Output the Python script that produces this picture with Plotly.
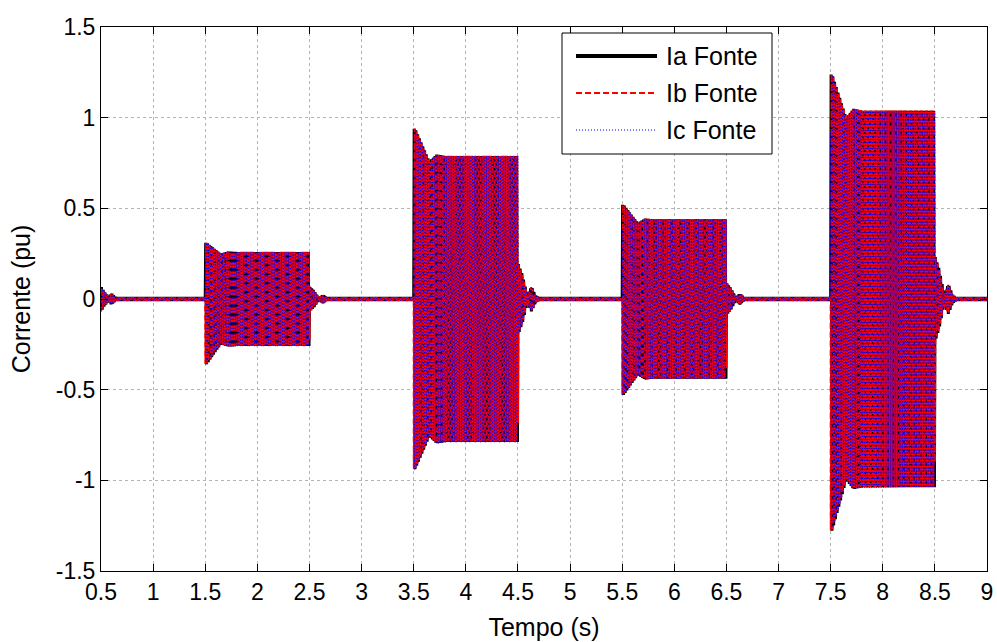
import numpy as np
import plotly.graph_objects as go

# ---- source currents: switching events (seconds, per-unit) ----
F_HZ = 60.0                       # grid frequency
t_start, t_end = 0.5, 9.0

t_on = [1.5, 3.5, 5.5, 7.5]       # load switched on
t_off = [2.5, 4.5, 6.5, 8.5]      # load switched off
steady = [0.26, 0.79, 0.44, 1.04]     # steady-state peak current
peak_top = [0.31, 0.94, 0.52, 1.24]   # positive inrush peak
peak_bot = [0.36, 0.94, 0.53, 1.28]   # negative inrush peak (magnitude)
dip = [0.25, 0.76, 0.42, 1.00]        # envelope dip after inrush
tail = [0.07, 0.2, 0.09, 0.24]        # ringing amplitude after switch-off

init_amp = 0.07                   # start-up transient at t = 0.5 s
residual = 0.01                   # idle ripple between events

# envelope breakpoints relative to each event (seconds)
inrush_dt = [0.0, 0.015, 0.15, 0.22, 0.3]
ring_dt = [0.0, 0.04, 0.09, 0.13, 0.17, 0.23]
ring_shape = [1.0, 0.7, 0.12, 0.35, 0.1, 0.0]
init_dt = [0.0, 0.03, 0.07, 0.1, 0.14, 0.2]
init_shape = [1.0, 0.6, 0.2, 0.45, 0.15, 0.0]

phase_names = ["Ia Fonte", "Ib Fonte", "Ic Fonte"]
phase_shift = [0.0, -2 * np.pi / 3, 2 * np.pi / 3]
colors = ["#000000", "#ff0000", "#0000ff"]
widths = [3, 2, 1]
dashes = ["solid", "6px,3px", "1px,2px"]

tick_x = [0.5, 1, 1.5, 2, 2.5, 3, 3.5, 4, 4.5, 5, 5.5, 6, 6.5, 7, 7.5, 8, 8.5, 9]
tick_x_text = ["0.5", "1", "1.5", "2", "2.5", "3", "3.5", "4", "4.5",
               "5", "5.5", "6", "6.5", "7", "7.5", "8", "8.5", "9"]
tick_y = [-1.5, -1, -0.5, 0, 0.5, 1, 1.5]
tick_y_text = ["-1.5", "-1", "-0.5", "0", "0.5", "1", "1.5"]

# ---- build upper / lower envelopes ----
t = np.arange(t_start, t_end, 1.0 / (F_HZ * 31))
upper = np.full_like(t, residual)
lower = np.full_like(t, residual)

m = (t >= t_start) & (t < t_start + init_dt[-1])
env0 = init_amp * np.interp(t[m] - t_start, init_dt, init_shape)
upper[m] = np.maximum(upper[m], env0)
lower[m] = np.maximum(lower[m], env0)

for k in range(len(t_on)):
    on = (t >= t_on[k]) & (t < t_off[k])
    rel = t[on] - t_on[k]
    up_pts = [peak_top[k], peak_top[k], dip[k], steady[k] * 1.01, steady[k]]
    lo_pts = [peak_bot[k], peak_bot[k], dip[k], steady[k] * 1.01, steady[k]]
    upper[on] = np.interp(rel, inrush_dt, up_pts)
    lower[on] = np.interp(rel, inrush_dt, lo_pts)
    off = (t >= t_off[k]) & (t < t_off[k] + ring_dt[-1])
    env = tail[k] * np.interp(t[off] - t_off[k], ring_dt, ring_shape)
    upper[off] = np.maximum(residual, env)
    lower[off] = np.maximum(residual, env)

mid = (upper - lower) / 2.0
half = (upper + lower) / 2.0

fig = go.Figure()
for name, ph, col, w, d in zip(phase_names, phase_shift, colors, widths, dashes):
    y = mid + half * np.sin(2 * np.pi * F_HZ * t + ph)
    fig.add_trace(go.Scatter(
        x=t, y=y, mode="lines", name=name, showlegend=False,
        line=dict(color=col, width=w, dash=d), hoverinfo="skip",
    ))

FONT = "Liberation Sans, Arial, Helvetica, sans-serif"

axis_common = dict(
    showline=True, linecolor="black", linewidth=1, mirror="ticks",
    ticks="inside", ticklen=7, tickcolor="black", tickwidth=1,
    showgrid=True, gridcolor="#b4b4b4", griddash="dot", gridwidth=1,
    zeroline=False, automargin=False,
    tickfont=dict(family=FONT, size=23, color="black"),
)

fig.update_xaxes(range=[t_start, t_end], tickvals=tick_x, ticktext=tick_x_text,
                 title=dict(text="Tempo (s)", font=dict(family=FONT, size=25, color="black"),
                            standoff=14),
                 **axis_common)
fig.update_yaxes(range=[-1.5, 1.5], tickvals=tick_y, ticktext=tick_y_text,
                 title=dict(text="Corrente (pu)", font=dict(family=FONT, size=25, color="black"),
                            standoff=18),
                 **axis_common)

# ---- legend box drawn in pixel-like paper coordinates ----
L, R, T, B = 101, 987, 27, 571
W, H = R - L, B - T


def px(xp):
    return (xp - L) / W


def py(yp):
    return (B - yp) / H


shapes = [dict(type="rect", xref="paper", yref="paper",
               x0=px(562), x1=px(772), y0=py(154), y1=py(33),
               line=dict(color="black", width=1), fillcolor="white", layer="above")]
annotations = []
rows = [56, 93, 130]
for name, col, w, d, ry in zip(phase_names, colors, widths, dashes, rows):
    shapes.append(dict(type="line", xref="paper", yref="paper",
                       x0=px(576), x1=px(657), y0=py(ry), y1=py(ry),
                       line=dict(color=col, width=w + (1 if w == 3 else 0), dash=d),
                       layer="above"))
    annotations.append(dict(xref="paper", yref="paper", x=px(664), y=py(ry),
                            text=name, showarrow=False, xanchor="left", yanchor="middle",
                            font=dict(family=FONT, size=25, color="black")))

fig.update_layout(
    width=997, height=642,
    margin=dict(l=L, r=997 - R, t=T, b=642 - B),
    paper_bgcolor="white", plot_bgcolor="white",
    shapes=shapes, annotations=annotations,
    showlegend=False,
)

fig.write_html("out.html")
